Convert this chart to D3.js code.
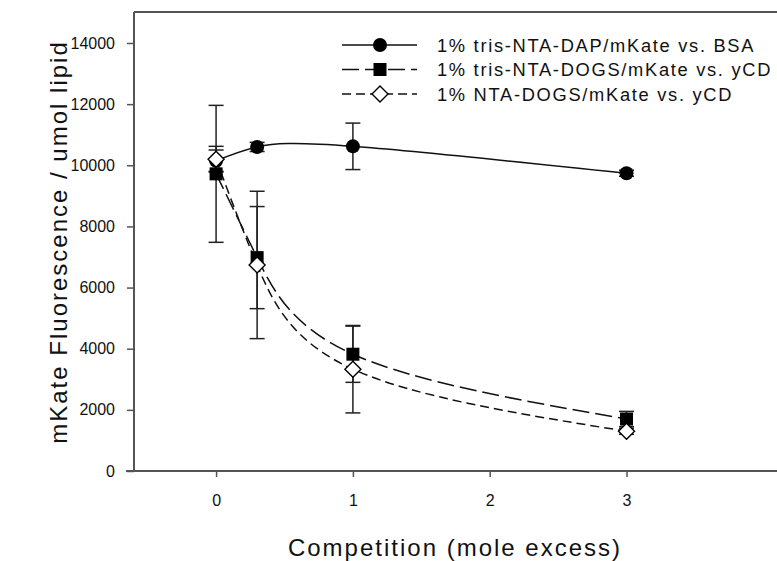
<!DOCTYPE html>
<html>
<head>
<meta charset="utf-8">
<script src="https://cdn.jsdelivr.net/npm/d3@7"></script>
<style>
	body { margin: 0; background: #fff; }
	text { font-family: "Liberation Sans", Arial, sans-serif; }
</style>
</head>
<body>
<div class="plot"></div>
<script>
const xValues = [0, 0.3, 1, 3];
const seriesNames = [
	"1% tris-NTA-DAP/mKate vs. BSA",
	"1% tris-NTA-DOGS/mKate vs. yCD",
	"1% NTA-DOGS/mKate vs. yCD"
];
const dapValues = [10150, 10600, 10620, 9740];
const dapErrors = [350, 150, 760, 100];
const dogsValues = [9720, 6980, 3820, 1700];
const dogsErrors = [2240, 1670, 920, 250];
const ntaValues = [10200, 6740, 3330, 1300];
const ntaErrors = [420, 2410, 1430, 100];
const yTicks = [0, 2000, 4000, 6000, 8000, 10000, 12000, 14000];
const xTicks = [0, 1, 2, 3];

const width = 777;
const height = 561;
const svg = d3.select('.plot')
	.append('svg')
	.attr('width', width)
	.attr('height', height);

const x = d3.scaleLinear().domain([-0.6, 4.1]).range([134, 777]);
const y = d3.scaleLinear().domain([0, 14000]).range([471, 43]);

const series = [
	{name: seriesNames[0], values: dapValues, errors: dapErrors, marker: 'circle', dash: null},
	{name: seriesNames[1], values: dogsValues, errors: dogsErrors, marker: 'square', dash: '17,6'},
	{name: seriesNames[2], values: ntaValues, errors: ntaErrors, marker: 'diamond', dash: '9,5'}
];

// axes
const axisColor = '#555';
svg.append('line')
	.attr('x1', 134).attr('x2', 134).attr('y1', 12).attr('y2', 471)
	.style('stroke', axisColor).style('stroke-width', 2);
svg.append('line')
	.attr('x1', 134).attr('x2', 777).attr('y1', 12).attr('y2', 12)
	.style('stroke', axisColor).style('stroke-width', 2);
svg.append('line')
	.attr('x1', 126).attr('x2', 777).attr('y1', 471).attr('y2', 471)
	.style('stroke', axisColor).style('stroke-width', 2);

const yAxis = svg.append('g')
	.attr('transform', 'translate(134,0)')
	.call(d3.axisLeft(y).tickValues(yTicks).tickSize(7).tickPadding(12).tickFormat(d3.format('d')));
const xAxis = svg.append('g')
	.attr('transform', 'translate(0,471)')
	.call(d3.axisBottom(x).tickValues(xTicks).tickSize(6).tickPadding(18).tickFormat(d3.format('d')));
[yAxis, xAxis].forEach(a => {
	a.attr('font-size', 16).attr('font-family', '"Liberation Sans", Arial, sans-serif');
	a.select('.domain').remove();
	a.selectAll('line').style('stroke', axisColor).style('stroke-width', 1.5);
	a.selectAll('text').attr('font-size', 16).style('fill', '#111');
});

svg.append('text')
	.attr('transform', 'translate(67,242) rotate(-90)')
	.attr('text-anchor', 'middle')
	.style('font-size', '24px')
	.style('letter-spacing', '2px')
	.style('fill', '#111')
	.text('mKate Fluorescence / umol lipid');
svg.append('text')
	.attr('x', 455).attr('y', 556)
	.attr('text-anchor', 'middle')
	.style('font-size', '24px')
	.style('letter-spacing', '2px')
	.style('fill', '#111')
	.text('Competition (mole excess)');

// curves
const line = d3.line()
	.x(d => x(d[0]))
	.y(d => y(d[1]))
	.curve(d3.curveNatural);

function drawMarker(g, type, cx, cy) {
	if (type === 'circle') {
		g.append('circle').attr('cx', cx).attr('cy', cy).attr('r', 7).style('fill', '#000');
	} else if (type === 'square') {
		g.append('rect').attr('x', cx - 6.5).attr('y', cy - 6.5).attr('width', 13).attr('height', 13).style('fill', '#000');
	} else {
		g.append('path')
			.attr('d', `M${cx},${cy - 8}L${cx + 8},${cy}L${cx},${cy + 8}L${cx - 8},${cy}Z`)
			.style('fill', '#fff').style('stroke', '#000').style('stroke-width', 1.4);
	}
}

series.forEach(s => {
	const pts = xValues.map((v, i) => [v, s.values[i]]);
	svg.append('path')
		.datum(pts)
		.attr('d', line)
		.style('fill', 'none')
		.style('stroke', '#111')
		.style('stroke-width', 1.5)
		.style('stroke-dasharray', s.dash);
});

// error bars
series.forEach(s => {
	const g = svg.append('g');
	xValues.forEach((v, i) => {
		const cx = x(v);
		const top = y(s.values[i] + s.errors[i]);
		const bot = y(s.values[i] - s.errors[i]);
		g.append('line').attr('x1', cx).attr('x2', cx).attr('y1', top).attr('y2', bot)
			.style('stroke', '#222').style('stroke-width', 1.5);
		[top, bot].forEach(yy => {
			g.append('line').attr('x1', cx - 7.5).attr('x2', cx + 7.5).attr('y1', yy).attr('y2', yy)
				.style('stroke', '#222').style('stroke-width', 1.5);
		});
	});
});

// markers (open diamonds drawn last)
series.forEach(s => {
	const g = svg.append('g');
	xValues.forEach((v, i) => drawMarker(g, s.marker, x(v), y(s.values[i])));
});

// legend
const legend = svg.append('g');
series.forEach((s, i) => {
	const ly = 45 + i * 24.5;
	legend.append('line')
		.attr('x1', 342).attr('x2', 417).attr('y1', ly).attr('y2', ly)
		.style('stroke', '#111').style('stroke-width', 1.5)
		.style('stroke-dasharray', s.dash);
	drawMarker(legend, s.marker, 380, ly);
	legend.append('text')
		.attr('x', 437).attr('y', ly + 6.5)
		.style('font-size', '18.3px')
		.style('letter-spacing', '1.7px')
		.style('fill', '#111')
		.text(s.name);
});
</script>
</body>
</html>
